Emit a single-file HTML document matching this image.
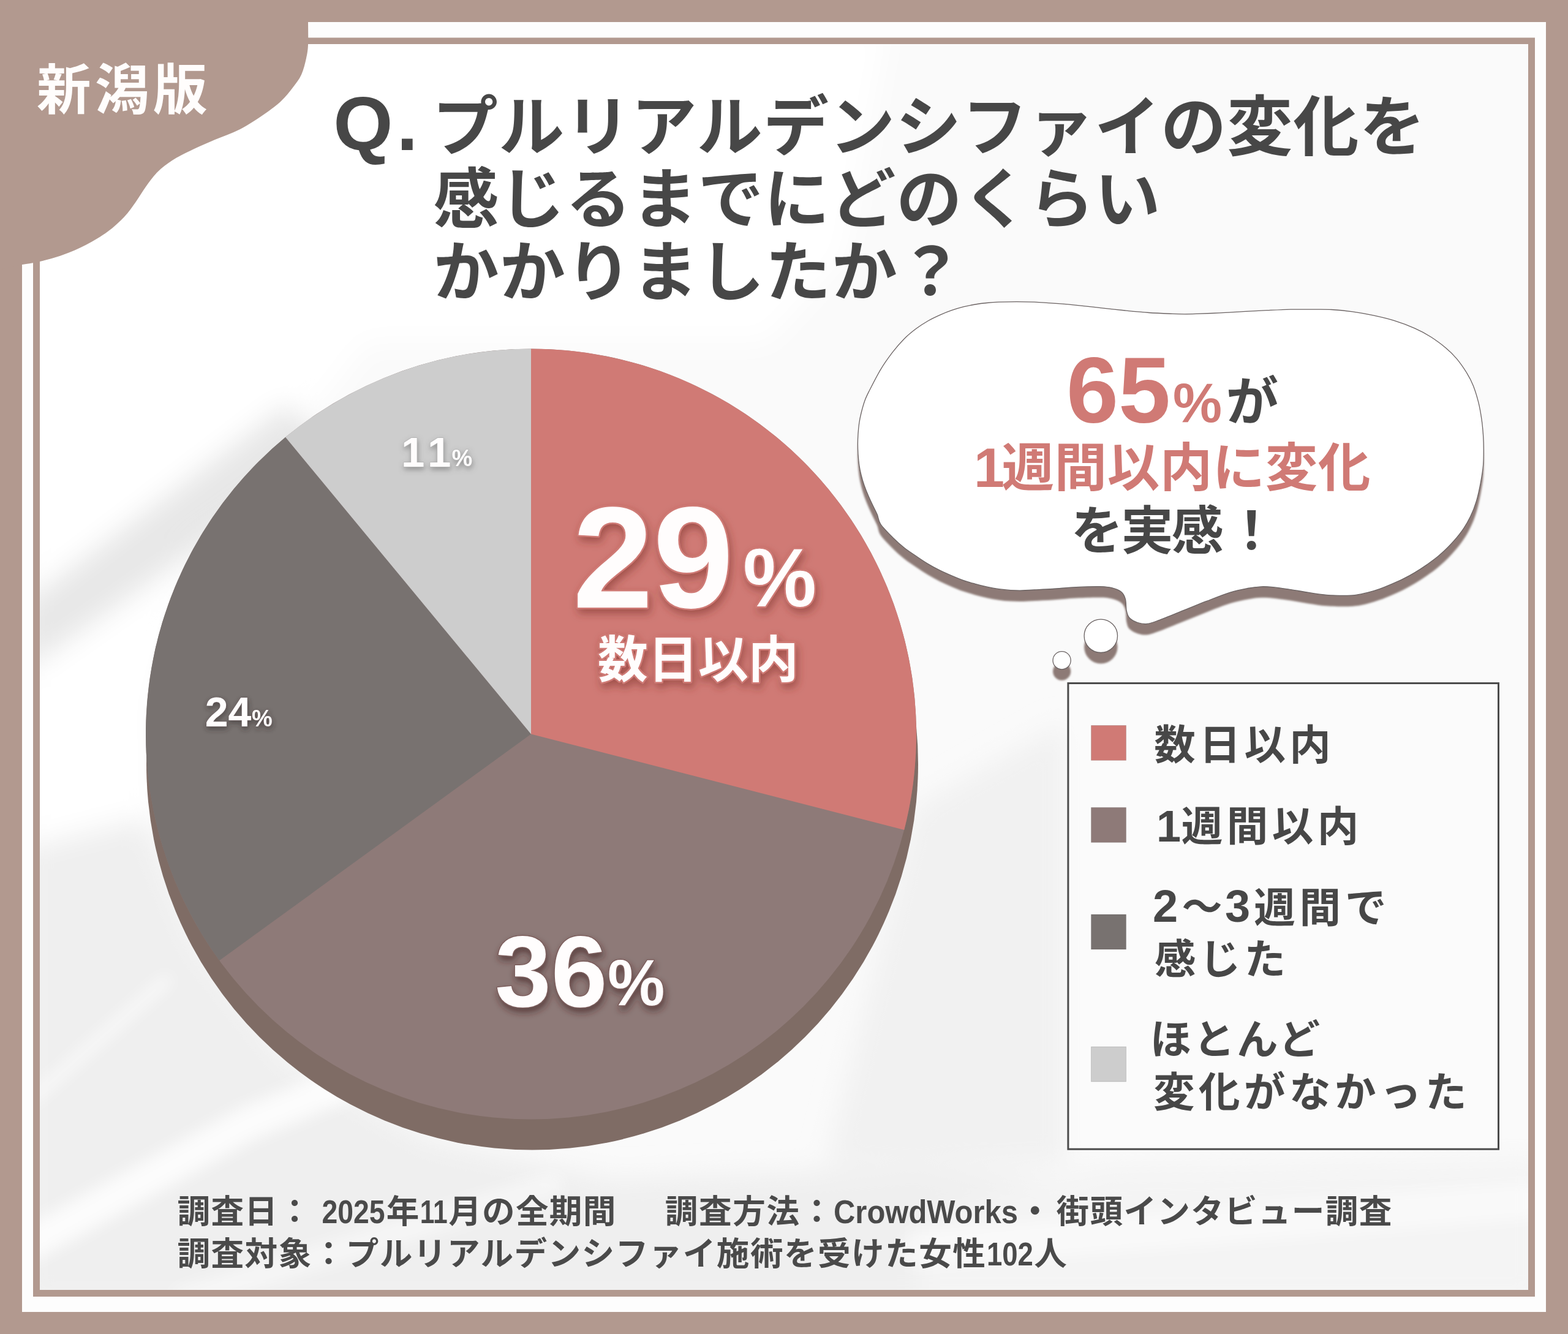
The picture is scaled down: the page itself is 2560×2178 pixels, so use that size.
<!DOCTYPE html>
<html lang="ja"><head><meta charset="utf-8"><title>chart</title>
<style>html,body{margin:0;padding:0;background:#b2998f;font-family:"Liberation Sans",sans-serif}svg{display:block}svg text{font-family:"Liberation Sans","Noto Sans CJK JP",sans-serif;font-weight:bold}.sr{position:absolute;left:0;top:0;width:1px;height:1px;overflow:hidden;clip:rect(0 0 0 0);clip-path:inset(50%);opacity:0;white-space:nowrap}</style>
</head><body>
<svg width="2560" height="2178" viewBox="0 0 2560 2178">
<defs>
<clipPath id="cin"><rect x="65" y="72" width="2430" height="2034"/></clipPath>
<filter id="fblur25" x="-20%" y="-20%" width="140%" height="140%"><feGaussianBlur stdDeviation="22"/></filter>
<filter id="fblur8" x="-20%" y="-20%" width="140%" height="140%"><feGaussianBlur stdDeviation="13"/></filter>
<filter id="sh29" x="-10%" y="-10%" width="120%" height="130%"><feDropShadow dx="3" dy="7" stdDeviation="7" flood-color="#7a2f2b" flood-opacity="0.55"/></filter>
<filter id="sh36" x="-10%" y="-10%" width="120%" height="130%"><feDropShadow dx="2" dy="7" stdDeviation="6" flood-color="#3a2220" flood-opacity="0.6"/></filter>
<filter id="sh24" x="-20%" y="-20%" width="140%" height="160%"><feDropShadow dx="1" dy="4" stdDeviation="4" flood-color="#2e2626" flood-opacity="0.55"/></filter>
<filter id="sh11" x="-20%" y="-20%" width="140%" height="160%"><feDropShadow dx="1" dy="4" stdDeviation="4" flood-color="#555555" flood-opacity="0.5"/></filter>
<filter id="shb" x="-5%" y="-5%" width="110%" height="115%"><feOffset dx="0" dy="18"/><feGaussianBlur stdDeviation="1.8"/></filter>
</defs>
<rect width="2560" height="2178" fill="#b2998f"/>
<rect x="36" y="36" width="2488" height="2106" fill="#fdfdfd"/>
<rect x="54" y="61.5" width="2452" height="2055.5" fill="#b2998f"/>
<rect x="65" y="72" width="2430" height="2034" fill="#fafafa"/>
<g clip-path="url(#cin)">
<g filter="url(#fblur25)">
<polygon points="40,40 1450,40 1380,420 1250,560 600,560 540,640 330,860 250,1150 255,1345 40,1400" fill="#ffffff"/>
<polygon points="40,985 470,660 545,740 40,1095" fill="#e7e7e7"/>
<polygon points="40,1385 235,1335 320,1540 470,1730 700,1860 1000,1925 1500,1905 1800,1930 2520,1930 2520,2130 40,2130" fill="#efefef"/>
<polygon points="1490,1320 1740,1180 1740,1900 1350,1900" fill="#f1f1f1"/>
<polygon points="1800,1900 2520,1890 2520,2130 1500,2130 1500,1990" fill="#f4f4f4"/>
</g>
<g filter="url(#fblur8)" stroke="#ffffff" fill="none" stroke-linecap="round">
<path d="M50 1796 L272 1600" stroke-width="16" opacity="0.75"/>
<path d="M50 2030 L405 1834 L560 1770" stroke-width="56" opacity="0.8"/>
<path d="M300 2120 L900 1935" stroke-width="40" opacity="0.45"/>
<path d="M1500 2040 L2500 1960" stroke-width="60" opacity="0.5"/>
</g>
</g>
<path d="M0 0L503 0L503 36C503.0 42.2 503.5 63.2 503.0 73.0C502.5 82.8 501.8 86.8 500.0 95.0C498.2 103.2 495.7 114.0 492.0 122.0C488.3 130.0 483.5 135.8 478.0 143.0C472.5 150.2 466.7 157.8 459.0 165.0C451.3 172.2 443.2 178.3 432.0 186.0C420.8 193.7 405.5 204.0 392.0 211.0C378.5 218.0 364.5 222.2 351.0 228.0C337.5 233.8 322.7 240.3 311.0 246.0C299.3 251.7 290.0 256.2 281.0 262.0C272.0 267.8 264.2 273.8 257.0 281.0C249.8 288.2 243.9 296.8 238.0 305.0C232.1 313.2 227.3 321.8 221.5 330.0C215.7 338.2 210.6 346.0 203.0 354.0C195.4 362.0 186.5 370.3 176.0 378.0C165.5 385.7 152.2 393.7 140.0 400.0C127.8 406.3 115.5 411.5 103.0 416.0C90.5 420.5 76.2 424.3 65.0 427.0C53.8 429.7 40.8 431.2 36.0 432.0L0 440Z" fill="#b2998f"/>
<circle cx="869" cy="1247.5" r="630" fill="#7f6c65"/>
<circle cx="867.0" cy="1198.5" r="629.0" fill="#8e7a78"/>
<path d="M867.0 1198.5 L867.00 569.50 A629.0 629.0 0 0 1 1476.24 1354.93 Z" fill="#d07a75"/>
<path d="M867.0 1198.5 L358.13 1568.22 A629.0 629.0 0 0 1 466.06 713.85 Z" fill="#787270"/>
<path d="M867.0 1198.5 L466.06 713.85 A629.0 629.0 0 0 1 867.00 569.50 Z" fill="#cdcdcd"/>
<g filter="url(#sh29)"><g fill="#cf7a74" stroke="#cf7a74" stroke-width="5" stroke-linejoin="round"><text x="935" y="992" font-size="236">29</text><text x="1213" y="990" font-size="135">%</text><text x="975.7" y="1105.8" font-size="82">数日以内</text></g></g><g fill="#fffdfd"><text x="935" y="992" font-size="236">29</text><text x="1213" y="990" font-size="135">%</text><text x="975.7" y="1105.8" font-size="82">数日以内</text></g>
<g filter="url(#sh36)"><g fill="#7b5d5b" stroke="#7b5d5b" stroke-width="3" stroke-linejoin="round"><text x="808" y="1642.6" font-size="165">36</text><text x="992" y="1641" font-size="105">%</text></g></g><g fill="#fffdfd"><text x="808" y="1642.6" font-size="165">36</text><text x="992" y="1641" font-size="105">%</text></g>
<g filter="url(#sh24)"><g fill="#6b6061" stroke="#6b6061" stroke-width="1.5" stroke-linejoin="round"><text x="334.8" y="1186.3" font-size="68">24</text><text x="411" y="1185.6" font-size="38">%</text></g></g><g fill="#fffdfd"><text x="334.8" y="1186.3" font-size="68">24</text><text x="411" y="1185.6" font-size="38">%</text></g>
<g filter="url(#sh11)"><g fill="#b2b2b2" stroke="#b2b2b2" stroke-width="1.5" stroke-linejoin="round"><text x="655 698" y="762" font-size="69">11</text><text x="737.5" y="761.3" font-size="38">%</text></g></g><g fill="#fffdfd"><text x="655 698" y="762" font-size="69">11</text><text x="737.5" y="761.3" font-size="38">%</text></g>
<g filter="url(#shb)"><path d="M1432.2 840.0C1430.1 835.0 1427.8 831.0 1425.4 826.0C1423.0 821.0 1420.4 815.5 1418.0 810.0C1415.6 804.5 1413.2 798.7 1411.2 793.0C1409.2 787.3 1407.5 781.7 1406.1 776.0C1404.7 770.3 1403.5 764.7 1402.7 759.0C1401.9 753.3 1401.4 747.7 1401.0 742.0C1400.6 736.3 1400.4 730.7 1400.4 725.0C1400.4 719.3 1400.6 713.7 1401.0 708.0C1401.4 702.3 1401.9 696.7 1402.7 691.0C1403.5 685.3 1404.6 680.0 1406.1 674.0C1407.6 668.0 1409.7 660.4 1411.7 654.7C1413.7 649.0 1413.9 648.5 1418.3 639.9C1422.7 631.3 1431.4 613.9 1437.9 603.1C1444.4 592.3 1450.8 583.6 1457.2 575.2C1463.6 566.9 1470.1 559.4 1476.5 553.0C1482.9 546.6 1489.4 541.4 1495.8 536.6C1502.2 531.8 1508.6 527.7 1515.0 524.0C1521.4 520.3 1528.0 517.3 1534.4 514.4C1540.9 511.5 1547.3 508.9 1553.7 506.7C1560.1 504.4 1566.6 502.5 1573.0 500.9C1579.4 499.3 1585.9 498.1 1592.3 497.0C1598.7 495.9 1605.1 495.1 1611.5 494.5C1617.9 493.9 1622.8 493.5 1630.8 493.2C1638.8 492.9 1650.1 492.6 1659.8 492.6C1669.5 492.6 1677.5 492.7 1688.7 493.2C1700.0 493.7 1715.4 494.8 1727.3 495.7C1739.2 496.6 1748.1 497.4 1760.0 498.6C1771.9 499.8 1785.7 501.4 1798.6 502.8C1811.5 504.2 1824.3 505.7 1837.2 507.0C1850.1 508.3 1862.9 509.6 1875.8 510.5C1888.7 511.4 1904.8 512.0 1914.4 512.4C1924.1 512.8 1927.3 512.8 1933.7 512.8C1940.1 512.8 1943.4 512.7 1953.0 512.4C1962.6 512.1 1978.7 511.5 1991.5 510.9C2004.3 510.3 2017.2 509.3 2030.1 508.6C2043.0 507.9 2055.8 507.3 2068.7 506.7C2081.6 506.1 2095.4 505.4 2107.3 505.1C2119.2 504.9 2128.9 505.1 2140.0 505.2C2151.1 505.3 2162.7 504.9 2174.0 505.5C2185.3 506.1 2196.7 507.3 2208.0 508.9C2219.3 510.5 2230.7 512.5 2242.0 514.9C2253.3 517.3 2264.7 519.9 2276.0 523.4C2287.3 526.9 2300.1 531.7 2310.0 536.1C2319.9 540.5 2327.1 544.3 2335.6 549.7C2344.1 555.1 2353.9 562.5 2361.0 568.4C2368.1 574.3 2372.3 578.6 2378.0 585.4C2383.7 592.2 2390.4 601.9 2395.0 609.3C2399.6 616.7 2402.2 621.8 2405.3 629.7C2408.4 637.6 2411.5 647.8 2413.8 656.9C2416.1 666.0 2417.6 675.3 2418.9 684.1C2420.2 692.9 2420.9 701.1 2421.5 709.6C2422.1 718.1 2422.3 726.6 2422.3 735.1C2422.3 743.6 2422.3 751.6 2421.5 760.6C2420.7 769.6 2419.0 779.4 2417.2 788.9C2415.4 798.4 2413.2 808.9 2410.5 817.9C2407.8 826.9 2404.7 835.0 2400.8 843.0C2396.9 851.0 2392.8 858.4 2387.3 866.1C2381.8 873.8 2374.4 882.4 2368.0 889.3C2361.6 896.2 2355.1 902.1 2348.7 907.6C2342.3 913.1 2335.8 917.6 2329.4 922.1C2323.0 926.6 2316.5 930.8 2310.1 934.6C2303.7 938.5 2297.2 942.0 2290.8 945.2C2284.4 948.4 2277.9 951.2 2271.5 953.9C2265.1 956.6 2258.6 959.4 2252.2 961.6C2245.8 963.9 2239.4 965.8 2233.0 967.4C2226.6 969.0 2220.1 970.5 2213.7 971.3C2207.3 972.1 2202.4 972.3 2194.4 972.3C2186.4 972.3 2175.1 972.1 2165.4 971.3C2155.8 970.5 2146.2 968.8 2136.5 967.4C2126.8 966.0 2117.2 964.0 2107.5 962.6C2097.8 961.2 2086.6 959.5 2078.6 958.7C2070.6 957.9 2066.2 957.5 2059.3 957.8C2052.4 958.1 2045.5 958.9 2037.0 960.5C2028.5 962.1 2019.3 963.8 2008.0 967.3C1996.7 970.8 1982.3 976.7 1969.4 981.7C1956.5 986.7 1943.7 992.1 1930.8 997.2C1917.9 1002.4 1901.9 1009.1 1892.3 1012.6C1882.7 1016.1 1878.8 1017.8 1873.0 1018.4C1867.2 1019.0 1862.3 1018.1 1857.5 1016.5C1852.7 1014.9 1847.0 1012.0 1844.0 1008.8C1841.0 1005.6 1840.3 1002.4 1839.2 997.2C1838.1 992.1 1838.8 983.0 1837.3 977.9C1835.8 972.8 1834.2 969.3 1830.5 966.3C1826.8 963.2 1820.8 961.0 1815.0 959.6C1809.2 958.2 1805.4 957.8 1795.8 957.6C1786.2 957.4 1770.1 958.0 1757.2 958.6C1744.3 959.2 1730.0 960.8 1718.6 961.5C1707.2 962.2 1696.9 962.6 1688.7 963.0C1680.5 963.4 1675.9 963.9 1669.4 964.0C1663.0 964.1 1656.4 964.0 1650.0 963.6C1643.6 963.2 1637.2 962.6 1630.8 961.7C1624.4 960.8 1617.9 959.6 1611.5 958.2C1605.1 956.8 1598.7 955.2 1592.3 953.4C1585.9 951.6 1579.4 949.9 1573.0 947.6C1566.6 945.4 1560.1 942.6 1553.7 939.9C1547.3 937.2 1540.9 934.4 1534.4 931.2C1528.0 928.0 1521.4 924.5 1515.0 920.6C1508.6 916.7 1502.2 912.4 1495.8 908.0C1489.4 903.6 1482.9 899.6 1476.5 894.5C1470.1 889.4 1463.6 883.6 1457.2 877.2C1450.8 870.8 1442.1 862.2 1437.9 856.0C1433.7 849.8 1434.3 845.0 1432.2 840.0Z" fill="#8d7a76"/><circle cx="1797.3" cy="1038.3" r="27.2" fill="#8d7a76"/><circle cx="1733.6" cy="1078.2" r="14.6" fill="#8d7a76"/></g>
<g fill="#ffffff" stroke="#6b6363" stroke-width="1.3"><path d="M1432.2 840.0C1430.1 835.0 1427.8 831.0 1425.4 826.0C1423.0 821.0 1420.4 815.5 1418.0 810.0C1415.6 804.5 1413.2 798.7 1411.2 793.0C1409.2 787.3 1407.5 781.7 1406.1 776.0C1404.7 770.3 1403.5 764.7 1402.7 759.0C1401.9 753.3 1401.4 747.7 1401.0 742.0C1400.6 736.3 1400.4 730.7 1400.4 725.0C1400.4 719.3 1400.6 713.7 1401.0 708.0C1401.4 702.3 1401.9 696.7 1402.7 691.0C1403.5 685.3 1404.6 680.0 1406.1 674.0C1407.6 668.0 1409.7 660.4 1411.7 654.7C1413.7 649.0 1413.9 648.5 1418.3 639.9C1422.7 631.3 1431.4 613.9 1437.9 603.1C1444.4 592.3 1450.8 583.6 1457.2 575.2C1463.6 566.9 1470.1 559.4 1476.5 553.0C1482.9 546.6 1489.4 541.4 1495.8 536.6C1502.2 531.8 1508.6 527.7 1515.0 524.0C1521.4 520.3 1528.0 517.3 1534.4 514.4C1540.9 511.5 1547.3 508.9 1553.7 506.7C1560.1 504.4 1566.6 502.5 1573.0 500.9C1579.4 499.3 1585.9 498.1 1592.3 497.0C1598.7 495.9 1605.1 495.1 1611.5 494.5C1617.9 493.9 1622.8 493.5 1630.8 493.2C1638.8 492.9 1650.1 492.6 1659.8 492.6C1669.5 492.6 1677.5 492.7 1688.7 493.2C1700.0 493.7 1715.4 494.8 1727.3 495.7C1739.2 496.6 1748.1 497.4 1760.0 498.6C1771.9 499.8 1785.7 501.4 1798.6 502.8C1811.5 504.2 1824.3 505.7 1837.2 507.0C1850.1 508.3 1862.9 509.6 1875.8 510.5C1888.7 511.4 1904.8 512.0 1914.4 512.4C1924.1 512.8 1927.3 512.8 1933.7 512.8C1940.1 512.8 1943.4 512.7 1953.0 512.4C1962.6 512.1 1978.7 511.5 1991.5 510.9C2004.3 510.3 2017.2 509.3 2030.1 508.6C2043.0 507.9 2055.8 507.3 2068.7 506.7C2081.6 506.1 2095.4 505.4 2107.3 505.1C2119.2 504.9 2128.9 505.1 2140.0 505.2C2151.1 505.3 2162.7 504.9 2174.0 505.5C2185.3 506.1 2196.7 507.3 2208.0 508.9C2219.3 510.5 2230.7 512.5 2242.0 514.9C2253.3 517.3 2264.7 519.9 2276.0 523.4C2287.3 526.9 2300.1 531.7 2310.0 536.1C2319.9 540.5 2327.1 544.3 2335.6 549.7C2344.1 555.1 2353.9 562.5 2361.0 568.4C2368.1 574.3 2372.3 578.6 2378.0 585.4C2383.7 592.2 2390.4 601.9 2395.0 609.3C2399.6 616.7 2402.2 621.8 2405.3 629.7C2408.4 637.6 2411.5 647.8 2413.8 656.9C2416.1 666.0 2417.6 675.3 2418.9 684.1C2420.2 692.9 2420.9 701.1 2421.5 709.6C2422.1 718.1 2422.3 726.6 2422.3 735.1C2422.3 743.6 2422.3 751.6 2421.5 760.6C2420.7 769.6 2419.0 779.4 2417.2 788.9C2415.4 798.4 2413.2 808.9 2410.5 817.9C2407.8 826.9 2404.7 835.0 2400.8 843.0C2396.9 851.0 2392.8 858.4 2387.3 866.1C2381.8 873.8 2374.4 882.4 2368.0 889.3C2361.6 896.2 2355.1 902.1 2348.7 907.6C2342.3 913.1 2335.8 917.6 2329.4 922.1C2323.0 926.6 2316.5 930.8 2310.1 934.6C2303.7 938.5 2297.2 942.0 2290.8 945.2C2284.4 948.4 2277.9 951.2 2271.5 953.9C2265.1 956.6 2258.6 959.4 2252.2 961.6C2245.8 963.9 2239.4 965.8 2233.0 967.4C2226.6 969.0 2220.1 970.5 2213.7 971.3C2207.3 972.1 2202.4 972.3 2194.4 972.3C2186.4 972.3 2175.1 972.1 2165.4 971.3C2155.8 970.5 2146.2 968.8 2136.5 967.4C2126.8 966.0 2117.2 964.0 2107.5 962.6C2097.8 961.2 2086.6 959.5 2078.6 958.7C2070.6 957.9 2066.2 957.5 2059.3 957.8C2052.4 958.1 2045.5 958.9 2037.0 960.5C2028.5 962.1 2019.3 963.8 2008.0 967.3C1996.7 970.8 1982.3 976.7 1969.4 981.7C1956.5 986.7 1943.7 992.1 1930.8 997.2C1917.9 1002.4 1901.9 1009.1 1892.3 1012.6C1882.7 1016.1 1878.8 1017.8 1873.0 1018.4C1867.2 1019.0 1862.3 1018.1 1857.5 1016.5C1852.7 1014.9 1847.0 1012.0 1844.0 1008.8C1841.0 1005.6 1840.3 1002.4 1839.2 997.2C1838.1 992.1 1838.8 983.0 1837.3 977.9C1835.8 972.8 1834.2 969.3 1830.5 966.3C1826.8 963.2 1820.8 961.0 1815.0 959.6C1809.2 958.2 1805.4 957.8 1795.8 957.6C1786.2 957.4 1770.1 958.0 1757.2 958.6C1744.3 959.2 1730.0 960.8 1718.6 961.5C1707.2 962.2 1696.9 962.6 1688.7 963.0C1680.5 963.4 1675.9 963.9 1669.4 964.0C1663.0 964.1 1656.4 964.0 1650.0 963.6C1643.6 963.2 1637.2 962.6 1630.8 961.7C1624.4 960.8 1617.9 959.6 1611.5 958.2C1605.1 956.8 1598.7 955.2 1592.3 953.4C1585.9 951.6 1579.4 949.9 1573.0 947.6C1566.6 945.4 1560.1 942.6 1553.7 939.9C1547.3 937.2 1540.9 934.4 1534.4 931.2C1528.0 928.0 1521.4 924.5 1515.0 920.6C1508.6 916.7 1502.2 912.4 1495.8 908.0C1489.4 903.6 1482.9 899.6 1476.5 894.5C1470.1 889.4 1463.6 883.6 1457.2 877.2C1450.8 870.8 1442.1 862.2 1437.9 856.0C1433.7 849.8 1434.3 845.0 1432.2 840.0Z"/><circle cx="1797.3" cy="1038.3" r="27.2"/><circle cx="1733.6" cy="1078.2" r="14.6"/></g>
<g fill="#d07a75"><text x="1741" y="689.6" font-size="153">65</text><text x="1915" y="688.5" font-size="90">%</text></g>
<g fill="#474747"><text x="2001.7" y="685.6" font-size="85.5">が</text></g>
<g fill="#d07a75"><text x="1590" y="794.5" font-size="90">1</text><text x="1635.5" y="794.2" font-size="85.5" letter-spacing="0.57">週間以内に変化</text></g>
<g fill="#474747"><text x="1748.5" y="896.5" font-size="85" letter-spacing="-2.9">を実感</text><text x="2000.7" y="896.5" font-size="85">！</text></g>
<rect x="1743.9" y="1115.5" width="702.6" height="760.7" fill="#fbfbfb" fill-opacity="0.75" stroke="#4b4b4b" stroke-width="3"/>
<rect x="1781.5" y="1184.4" width="57" height="57" fill="#d07a75" stroke="#00000022" stroke-width="1"/>
<rect x="1781.5" y="1318.4" width="57" height="57" fill="#8e7a78" stroke="#00000022" stroke-width="1"/>
<rect x="1781.5" y="1493.0" width="57" height="57" fill="#787270" stroke="#00000022" stroke-width="1"/>
<rect x="1781.5" y="1709.0" width="57" height="57" fill="#cdcdcd" stroke="#00000022" stroke-width="1"/>
<g fill="#474747">
<text x="1884.2" y="1239.5" font-size="67.5" letter-spacing="6.2">数日以内</text>
<text x="1888" y="1373.7" font-size="72">1</text>
<text x="1928.7" y="1373.3" font-size="67.5" letter-spacing="6.5">週間以内</text>
<text x="1882" y="1505.4" font-size="74">2</text>
<text x="1929.5" y="1504.3" font-size="66">～</text>
<text x="2000" y="1505.4" font-size="74">3</text>
<text x="2047.2" y="1505.8" font-size="67.5" letter-spacing="6.9">週間で</text>
<text x="1885" y="1589.7" font-size="67.5" letter-spacing="5.7">感じた</text>
<text x="1877.8" y="1721" font-size="67.5" letter-spacing="3.15">ほとんど</text>
<text x="1882.9" y="1806.5" font-size="67.5" letter-spacing="6.5">変化がなかった</text>
</g>
<g fill="#474747">
<text x="544.3" y="244.5" font-size="125" letter-spacing="6">Q.</text>
<text x="706" y="245.3" font-size="107" letter-spacing="1.2">プルリアルデンシファイの変化を</text>
<text x="707.6" y="363.3" font-size="107" letter-spacing="1">感じるまでにどのくらい</text>
<text x="707.4" y="482.4" font-size="107" letter-spacing="1.4">かかりましたか？</text>
</g>
<g fill="#fffdfc"><text x="60" y="178.1" font-size="88.5" letter-spacing="6.5">新潟版</text></g>
<g fill="#4a4a4a" font-size="53.6">
<text x="289.5" y="1996.7" letter-spacing="1.3">調査日：</text>
<text x="525.4" y="1996.7" textLength="103" lengthAdjust="spacingAndGlyphs">2025</text>
<text x="630.8" y="1996.7">年</text>
<text x="685.7" y="1996.7" textLength="45" lengthAdjust="spacingAndGlyphs">11</text>
<text x="732.2" y="1996.7" letter-spacing="1.3">月の全期間</text>
<text x="1085.8" y="1996.7" letter-spacing="1.65">調査方法：</text>
<text x="1361" y="1996.7" textLength="301" lengthAdjust="spacingAndGlyphs">CrowdWorks</text>
<text x="1663" y="1996.7">・</text>
<text x="1724.6" y="1996.7" letter-spacing="1.3">街頭インタビュー調査</text>
<text x="289.5" y="2066" letter-spacing="1.46">調査対象：プルリアルデンシファイ施術を受けた女性</text>
<text x="1610.9" y="2066" textLength="76" lengthAdjust="spacingAndGlyphs">102</text>
<text x="1688.2" y="2066">人</text>
</g>
</svg>
<div class="sr">
<h1>新潟版 Q. プルリアルデンシファイの変化を感じるまでにどのくらいかかりましたか？</h1>
<p>65%が1週間以内に変化を実感！</p>
<ul><li>数日以内 29%</li><li>1週間以内 36%</li><li>2～3週間で感じた 24%</li><li>ほとんど変化がなかった 11%</li></ul>
<p>調査日： 2025年11月の全期間　調査方法：CrowdWorks・街頭インタビュー調査</p>
<p>調査対象：プルリアルデンシファイ施術を受けた女性102人</p>
</div>
</body></html>
